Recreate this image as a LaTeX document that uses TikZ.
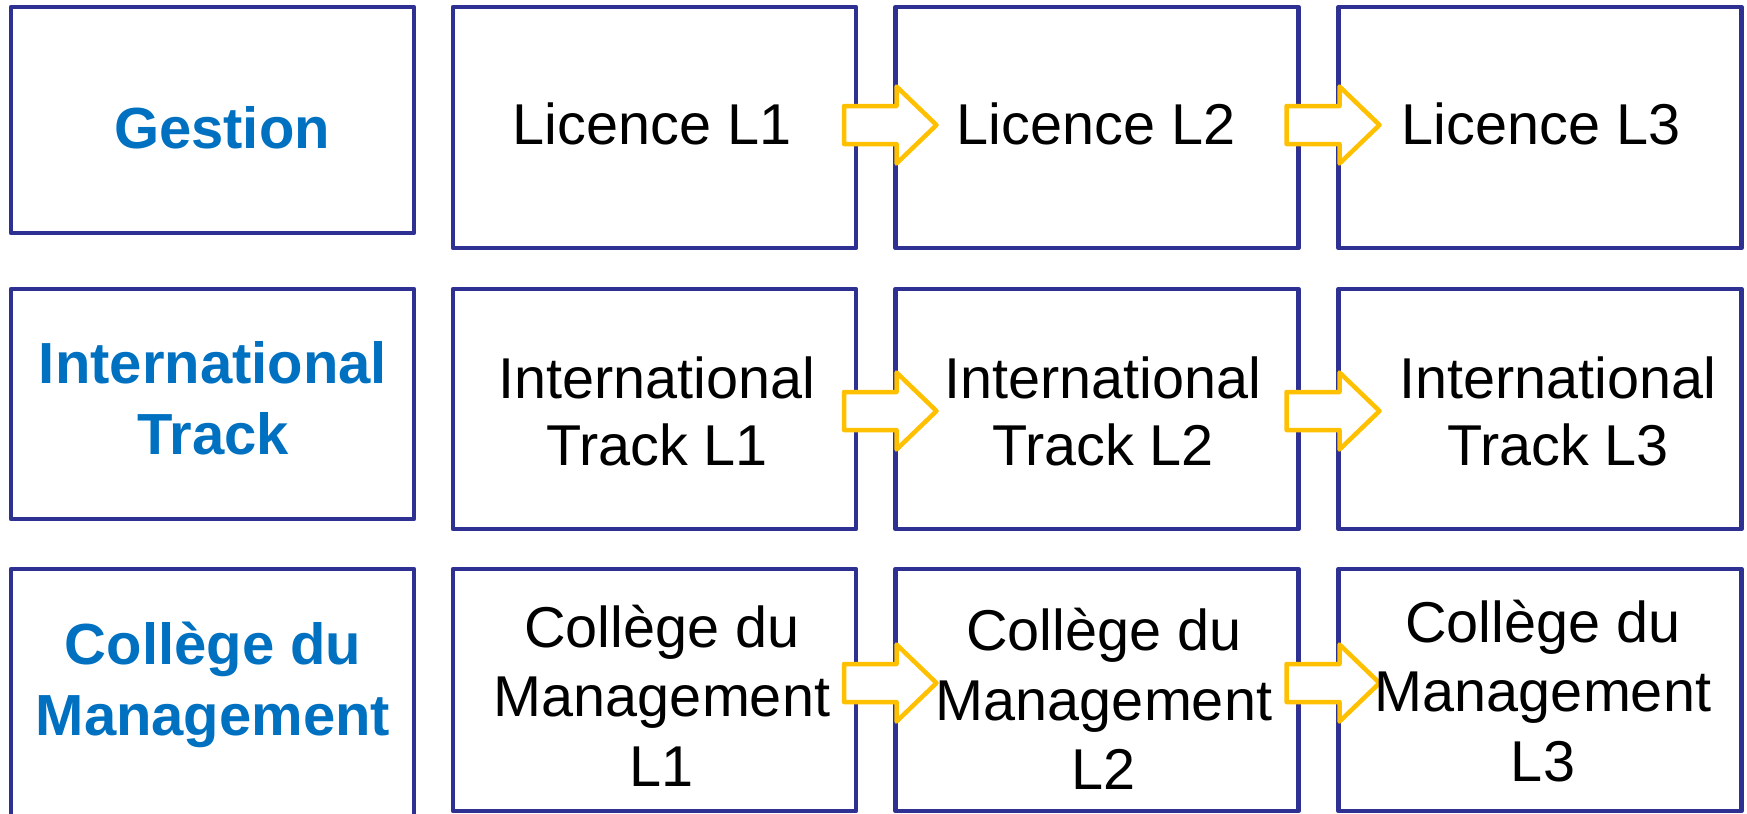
\documentclass[tikz,border=0pt]{standalone}
\usepackage{fontspec}
\setmainfont{Liberation Sans}
\usetikzlibrary{calc}
\definecolor{boxnavy}{RGB}{46,49,146}
\definecolor{labelblue}{RGB}{0,112,192}
\definecolor{arrowgold}{RGB}{255,192,0}
\tikzset{
  cell/.style={draw=boxnavy, line width=2.3pt, rectangle, inner sep=0pt, outer sep=0pt,
    minimum width=201.5pt, line join=round},
  rowlabel/.style={font=\fontsize{29}{35.5}\selectfont\bfseries, text=labelblue,
    align=center, inner sep=0pt},
  celltext/.style={font=\fontsize{28.8}{33.5}\selectfont, align=center, inner sep=0pt},
  cmtext/.style={font=\fontsize{28.8}{34.8}\selectfont, align=center, inner sep=0pt},
  blockarrowstyle/.style={draw=arrowgold, fill=white, line width=2.25pt, line join=round},
}
% #1 from node, #2 to node, #3 vertical offset (px)
\newcommand{\yellowarrow}[3]{%
  \draw[blockarrowstyle]
    ($(#1.east)+(-12,#3-19)$) -- ($(#2.west)+(1,#3-19)$) -- ($(#2.west)+(1,#3-38.5)$)
    -- ($(#2.west)+(41,#3)$) -- ($(#2.west)+(1,#3+38.5)$) -- ($(#2.west)+(1,#3+19)$)
    -- ($(#1.east)+(-12,#3+19)$) -- cycle;}

\begin{document}
\begin{tikzpicture}[x=0.5pt, y=-0.5pt]
  \useasboundingbox (0,0) rectangle (1747,814);
  \clip (0,0) rectangle (1747,814);

  % row 1
  \node[cell, minimum height=113pt]   (r1c0) at (212.5,120) {};
  \node[cell, minimum height=120.5pt] (r1c1) at (654.5,127.5) {};
  \node[cell, minimum height=120.5pt] (r1c2) at (1097,127.5) {};
  \node[cell, minimum height=120.5pt] (r1c3) at (1540,127.5) {};
  % row 2
  \node[cell, minimum height=115pt]   (r2c0) at (212.5,404) {};
  \node[cell, minimum height=120pt]   (r2c1) at (654.5,409) {};
  \node[cell, minimum height=120pt]   (r2c2) at (1097,409) {};
  \node[cell, minimum height=120pt]   (r2c3) at (1540,409) {};
  % row 3
  \node[cell, minimum height=130.5pt] (r3c0) at (212.5,699.5) {};
  \node[cell, minimum height=121pt]   (r3c1) at (654.5,690) {};
  \node[cell, minimum height=121pt]   (r3c2) at (1097,690) {};
  \node[cell, minimum height=121pt]   (r3c3) at (1540,690) {};

  % arrows
  \yellowarrow{r1c1}{r1c2}{-2.5}
  \yellowarrow{r1c2}{r1c3}{-2.5}
  \yellowarrow{r2c1}{r2c2}{2}
  \yellowarrow{r2c2}{r2c3}{2}
  \yellowarrow{r3c1}{r3c2}{-7}
  \yellowarrow{r3c2}{r3c3}{-7}

  % texts
  \node[rowlabel] (t10) at (222,128) {Gestion};
  \node[celltext] (t11) at (652,124) {Licence L1};
  \node[celltext] (t12) at (1096,124) {Licence L2};
  \node[celltext] (t13) at (1541,124) {Licence L3};

  \node[rowlabel] (t20) at (213,398.5) {International\\Track};
  \node[celltext] (t21) at (657,411) {International\\Track L1};
  \node[celltext] (t22) at (1103,411) {International\\Track L2};
  \node[celltext] (t23) at (1558,411) {International\\Track L3};

  \node[rowlabel] (t30) at (213,685) {Collège du\\Management};
  \node[cmtext] (t31) at (662,695.5) {Collège du\\Management\\L1};
  \node[cmtext] (t32) at (1104,699) {Collège du\\Management\\L2};
  \node[cmtext] (t33) at (1543,691) {Collège du\\Management\\L3};
\end{tikzpicture}
\end{document}
